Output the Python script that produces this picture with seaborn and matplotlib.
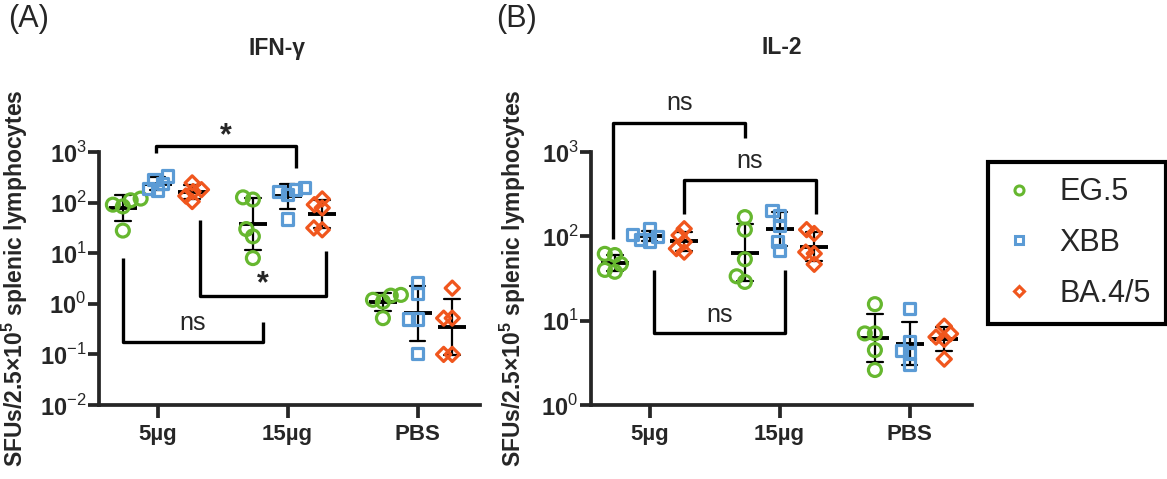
import numpy as np
import pandas as pd
import matplotlib
matplotlib.use("Agg")
import matplotlib.pyplot as plt
from matplotlib.lines import Line2D
from matplotlib.ticker import NullLocator
import seaborn as sns

doses = ["5µg", "15µg", "PBS"]
variants = ["EG.5", "XBB", "BA.4/5"]
colors = ["#66B72F", "#5B9BD5", "#F0561D"]
markers = ["o", "s", "D"]

# SFUs per 2.5x10^5 splenic lymphocytes, 5 mice per group, per dose (5µg, 15µg, PBS)
ifn_eg5 = [[120, 111, 91, 84, 28], [127, 115, 30, 21.5, 8.0], [1.5, 1.45, 1.2, 1.1, 0.52]]
ifn_xbb = [[335, 290, 240, 190, 170], [196, 180, 167, 144, 47.5], [2.6, 1.6, 0.5, 0.5, 0.106]]
ifn_ba45 = [[245, 180, 165, 135, 105], [118, 91, 78.5, 31.6, 29], [2.04, 0.52, 0.52, 0.1, 0.1]]

il2_eg5 = [[62, 60, 47, 40, 38], [169, 120, 53.5, 33.6, 28.8], [15.7, 7.06, 7.06, 4.48, 2.6]]
il2_xbb = [[125, 105, 100, 92, 88], [203, 177, 135, 86, 68], [13.9, 5.6, 4.48, 4.09, 3.06]]
il2_ba45 = [[123, 103, 86, 71.5, 65], [120, 108, 65, 62.4, 46.6], [8.6, 7.0, 6.4, 6.0, 3.5]]

# significance brackets: x1, x2, y1 (log10), y2 (log10), bar (log10), label, label x, label y (log10)
ifn_sig = [(-0.015, 1.062, 2.984, 2.693, 3.115, "*", 0.528, 3.32),
           (0.323, 1.298, 1.663, 1.036, 0.158, "*", 0.81, 0.39),
           (-0.267, 0.815, 0.905, -0.35, -0.747, "ns", 0.272, -0.37)]
il2_sig = [(-0.277, 0.731, 1.973, 3.163, 3.341, "ns", 0.231, 3.578),
           (0.269, 1.277, 2.269, 2.269, 2.663, "ns", 0.769, 2.899),
           (0.031, 1.044, 1.598, 1.598, 0.849, "ns", 0.538, 1.065)]


def to_long(groups):
    rows = []
    for v, per_dose in zip(variants, groups):
        for d, vals in zip(doses, per_dose):
            for val in vals:
                rows.append((d, v, val))
    return pd.DataFrame(rows, columns=["dose", "variant", "sfu"])


ifn = to_long([ifn_eg5, ifn_xbb, ifn_ba45])
il2 = to_long([il2_eg5, il2_xbb, il2_ba45])

sns.set_style("ticks")
plt.rcParams["font.family"] = ["Liberation Sans", "DejaVu Sans"]
plt.rcParams["mathtext.fontset"] = "custom"
plt.rcParams["mathtext.rm"] = "Liberation Sans"
plt.rcParams["mathtext.bf"] = "Liberation Sans:bold"

W, H = 1167, 479
fig = plt.figure(figsize=(W / 100, H / 100), dpi=100)
ax_a = fig.add_axes([99 / W, 74 / H, 381 / W, 253 / H])
ax_b = fig.add_axes([591 / W, 74 / H, 381 / W, 253 / H])

pal = dict(zip(variants, colors))
sizes = {"o": 9.3, "s": 8.0, "D": 7.2}
edge_w = 2.3
swarm_colls = []  # (collection, final marker size)


def draw_panel(ax, df, exps, sig):
    ax.set_yscale("log")
    ax.set_xlim(-0.45, 2.48)
    ax.set_ylim(10.0 ** exps[0], 10.0 ** exps[-1])
    for v, m in zip(variants, markers):
        n_before = len(ax.collections)
        # swarm laid out with a smaller marker so points stay close, like the original
        sns.swarmplot(data=df[df.variant == v], x="dose", y="sfu", hue="variant",
                      hue_order=variants, order=doses, palette=pal, dodge=True,
                      marker=m, size=sizes[m] * 0.5, linewidth=edge_w, legend=False, ax=ax)
        for coll in ax.collections[n_before:]:
            coll.set_edgecolor(pal[v])
            coll.set_facecolor("none")
            coll.set_linewidth(edge_w)
            swarm_colls.append((coll, sizes[m]))
    # geometric mean +/- SD (seaborn aggregates in log space on a log axis)
    sns.pointplot(data=df, x="dose", y="sfu", hue="variant", hue_order=variants,
                  order=doses, dodge=0.8 * 2 / 3, palette=["black"] * 3,
                  estimator="mean", errorbar="sd", markers="_", linestyle="none",
                  markersize=20, markeredgewidth=2.8, capsize=0.12,
                  err_kws={"linewidth": 1.6}, legend=False, ax=ax)
    ax.set_xlim(-0.45, 2.48)
    ax.set_yscale("log")
    ax.set_ylim(10.0 ** exps[0], 10.0 ** exps[-1])
    ax.set_yticks([10.0 ** e for e in exps])
    ax.set_yticklabels(["10$^{%d}$" % e for e in exps], fontsize=17, fontweight="bold")
    ax.yaxis.set_minor_locator(NullLocator())
    ax.set_xticks(range(len(doses)))
    ax.set_xticklabels(doses, fontsize=16, fontweight="bold")
    ax.set_xlabel("")
    ax.set_ylabel(r"SFUs/2.5×10$^{\mathbf{5}}$ splenic lymphocytes", fontsize=16.5, fontweight="bold")
    sns.despine(ax=ax)
    for s in ["left", "bottom"]:
        ax.spines[s].set_linewidth(2.7)
    ax.tick_params(axis="y", length=8, width=2.7, pad=1)
    ax.tick_params(axis="x", length=9, width=2.7, pad=5)
    for x1, x2, y1, y2, yb, lab, tx, ty in sig:
        ax.plot([x1, x1, x2, x2], [10 ** y1, 10 ** yb, 10 ** yb, 10 ** y2],
                color="black", lw=2.4, clip_on=False, solid_capstyle="butt")
        if lab == "*":
            ax.text(tx, 10 ** ty, lab, ha="center", va="center", fontsize=22,
                    fontweight="bold", clip_on=False)
        else:
            ax.text(tx, 10 ** ty, lab, ha="center", va="center", fontsize=18, clip_on=False)


draw_panel(ax_a, ifn, [-2, -1, 0, 1, 2, 3], ifn_sig)
draw_panel(ax_b, il2, [0, 1, 2, 3], il2_sig)
ax_a.yaxis.set_label_coords(-0.18, 0.5)
ax_b.yaxis.set_label_coords(-0.165, 0.5)

fig.text(276.7 / W, 1 - 48 / H, "IFN-γ", ha="center", va="center", fontsize=16.5, fontweight="bold")
fig.text(781.7 / W, 1 - 48 / H, "IL-2", ha="center", va="center", fontsize=16.5, fontweight="bold")
fig.text(8 / W, 1 - 19 / H, "(A)", ha="left", va="center", fontsize=22)
fig.text(496 / W, 1 - 19 / H, "(B)", ha="left", va="center", fontsize=22)

handles = [Line2D([], [], linestyle="none", marker=m, markersize=sizes[m] * 0.7,
                  markerfacecolor="none", markeredgecolor=c, markeredgewidth=2.2)
           for m, c in zip(markers, colors)]
leg = fig.legend(handles, variants, loc="upper left", bbox_to_anchor=(988 / W, 1 - 162 / H),
                 frameon=True, fancybox=False, edgecolor="black", framealpha=1,
                 fontsize=22, handlelength=1.0, handletextpad=0.85, labelspacing=0.68,
                 borderpad=0.5, borderaxespad=0)
leg.get_frame().set_linewidth(3)

# fix the swarm positions, then switch to the full marker size
fig.canvas.draw()
for coll, s in swarm_colls:
    if "draw" in coll.__dict__:
        del coll.draw
    coll.set_sizes([s ** 2])

fig.savefig("out.png", dpi=100)
